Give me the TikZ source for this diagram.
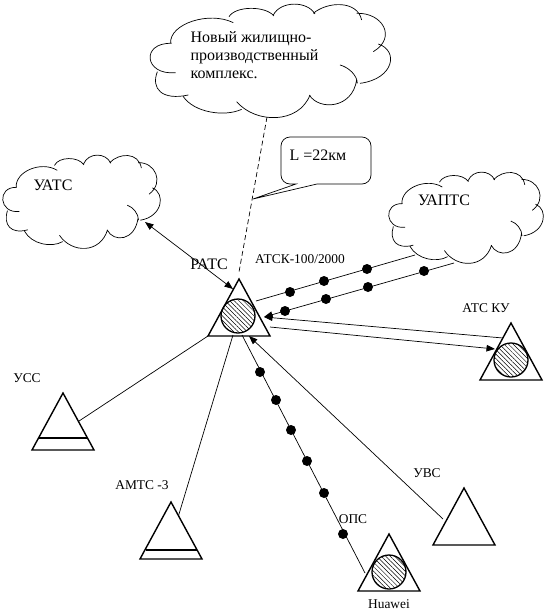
\documentclass[tikz,border=0pt]{standalone}
\usepackage{fontspec}
\setmainfont{Liberation Serif}
\usetikzlibrary{arrows.meta,shapes.geometric,patterns.meta}
\tikzset{
  station/.style={draw,isosceles triangle,shape border rotate=90,isosceles triangle stretches,
    minimum width=62pt,minimum height=57pt,inner sep=0pt,outer sep=0pt,line width=1.4pt,anchor=apex},
  ball/.style={draw,circle,minimum size=34pt,inner sep=0pt,line width=1.3pt,
    pattern={Lines[angle=-45,distance=3.2pt,line width=0.5pt]}},
  dot/.style={fill=black,circle,minimum size=10pt,inner sep=0pt},
  big/.style={font=\fontsize{16}{18}\selectfont,align=left},
  small/.style={font=\fontsize{13.4}{15}\selectfont},
  tip/.style={-{Triangle[length=8.5pt,width=6.5pt]}},
  pics/lobes/.style={code={
    \draw[line width=0.7pt]
      (65,118) .. controls (60,60) and (180,20) .. (253,56)
      (240,38) .. controls (260,5) and (350,5) .. (375,36)
      (373,33) .. controls (395,-10) and (475,-10) .. (498,30)
      (493,28) .. controls (535,-8) and (625,-12) .. (638,48)
      (623,28) .. controls (700,25) and (745,100) .. (673,143)
      (688,120) .. controls (750,140) and (735,225) .. (633,238)
      (573,183) .. controls (600,190) and (625,215) .. (625,238)
      (623,228) .. controls (610,315) and (510,320) .. (481,273)
      (483,273) .. controls (450,360) and (320,360) .. (263,293)
      (278,316) .. controls (225,340) and (135,325) .. (103,278)
      (118,273) .. controls (40,290) and (5,255) .. (25,203)
      (68,118) .. controls (-25,115) and (-15,215) .. (80,206);
  }}
}
\begin{document}
\begin{tikzpicture}[x=1pt,y=-1pt,line width=0.7pt]
  \useasboundingbox (0,0) rectangle (555,614);
  % clouds
  \pic[xscale=0.3333,yscale=0.3333] at (149,4) {lobes};
  \pic[xscale=0.2185,yscale=0.274] at (2,155) {lobes};
  \pic[xscale=0.2144,yscale=0.268] at (388,172) {lobes};
  \node[big,anchor=west] (tcloud) at (187,55) {Новый жилищно-\\производственный\\комплекс.};
  \node[big] (uats) at (53,185) {УАТС};
  \node[big] (uapts) at (444,200) {УАПТС};
  % stations
  \node[station] (rats) at (239,279) {};
  \node[station] (atsku) at (511,323) {};
  \node[station] (ucc) at (63,393) {};
  \node[station] (amts) at (171,502) {};
  \node[station] (uvs) at (464,488) {};
  \node[station] (huawei) at (389,534) {};
  \node[ball] (ratsball) at (238,316) {};
  \node[ball] (atskuball) at (511,360) {};
  \node[ball] (huaweiball) at (389,572) {};
  \draw[line width=1.4pt] (39,438) -- (87,438);
  \draw[line width=1.4pt] (146,550) -- (197,550);
  % callout
  \draw (296,184) -- (253,199) -- (317,184)
    {[rounded corners=9pt] -- (371,184) -- (371,137) -- (281,137) -- (281,184)} -- cycle;
  \node[big] (dist) at (318,155) {L =22км};
  % labels
  \node[big] (ratstxt) at (209,264) {РАТС};
  \node[small] (atsk) at (300,259) {АТСК-100/2000};
  \node[small] (atskutxt) at (486,308) {АТС КУ};
  \node[small] (ucctxt) at (27,378) {УСС};
  \node[small] (amtstxt) at (142,485) {АМТС -3};
  \node[small] (uvstxt) at (427,473) {УВС};
  \node[small] (opstxt) at (353,519) {ОПС};
  \node[small] (huaweitxt) at (389,604) {Huawei};
  % free ends of the links
  \coordinate (tc) at (267,117);
  \coordinate (ua) at (145,222);
  \coordinate (ra) at (233,289);
  \coordinate (rt) at (239,272);
  \coordinate (r1) at (256,301);
  \coordinate (r2) at (264,317);
  \coordinate (r3) at (270,327);
  \coordinate (r4) at (233,335);
  \coordinate (r5) at (242,335);
  \coordinate (r6) at (249,336);
  \coordinate (p1) at (415,255);
  \coordinate (p2) at (454,263);
  \coordinate (k1) at (503,338);
  \coordinate (k2) at (495,349);
  \coordinate (v1) at (443,519);
  \coordinate (h1) at (365,573);
  % links
  \draw[dash pattern=on 5pt off 3pt] (tc) -- (rt);
  \draw[{Triangle[length=8.5pt,width=6.5pt]}-{Triangle[length=8.5pt,width=6.5pt]}] (ua) -- (ra);
  \draw (r1) -- (p1);
  \draw[tip] (p2) -- (r2);
  \draw[tip] (k1) -- (r2);
  \draw[tip] (r3) -- (k2);
  \draw (rats.left corner) -- (ucc);
  \draw (r4) -- (amts);
  \draw (r5) -- (h1);
  \draw[tip] (v1) -- (r6);
  % dots on the links
  \foreach \x/\y [count=\i] in {290/292,324/281,367/269,424/271,368/287,326/299,285/311,
      260/372,276/400,291/430,307/461,324/493,343/534}{
    \node[dot] (d\i) at (\x,\y) {};}
\end{tikzpicture}
\end{document}
